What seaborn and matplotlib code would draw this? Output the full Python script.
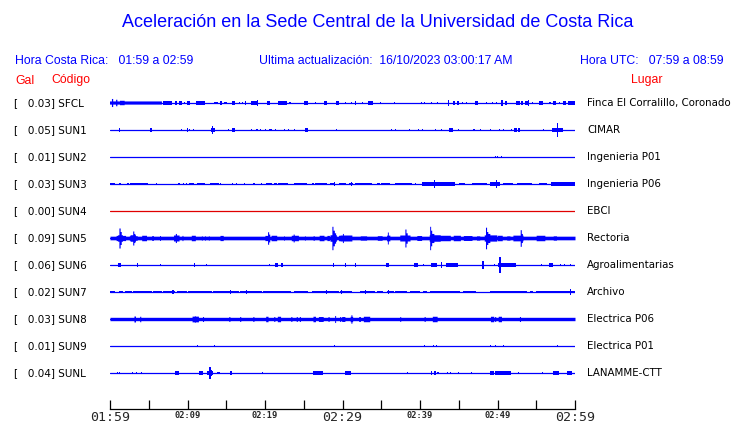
import numpy as np
import pandas as pd
import matplotlib
matplotlib.use("Agg")
import matplotlib.pyplot as plt
import seaborn as sns

# ---------------- data ----------------
codes = ["SFCL", "SUN1", "SUN2", "SUN3", "SUN4", "SUN5", "SUN6", "SUN7", "SUN8", "SUN9", "SUNL"]
peak_gal = [0.03, 0.05, 0.01, 0.03, 0.00, 0.09, 0.06, 0.02, 0.03, 0.01, 0.04]
places = ["Finca El Corralillo, Coronado", "CIMAR", "Ingenieria P01", "Ingenieria P06", "EBCI",
          "Rectoria", "Agroalimentarias", "Archivo", "Electrica P06", "Electrica P01", "LANAMME-CTT"]
# background noise half-amplitude (Gal)
noise_gal = [0.0, 0.0, 0.0, 0.0, 0.0, 0.014, 0.0, 0.0, 0.013, 0.0, 0.0]
# bursts: (start minute, end minute, half-amplitude Gal), minutes after 01:59
sfcl = [(0.0,6.7,0.012),(0.25,0.4,0.031),(0.8,0.95,0.025),(1.3,1.9,0.017),
    (6.9,8.0,0.012),(8.4,8.7,0.012),(8.9,9.3,0.012),(9.5,9.7,0.01),(9.9,10.3,0.012),(11.1,12.3,0.012),
    (13.4,13.9,0.01),(14.2,14.5,0.012),(14.7,15.1,0.01),(15.7,16.1,0.012),(16.7,16.8,0.01),(17.1,17.1,0.01),
    (17.4,17.6,0.012),(18.2,19.1,0.013),(19.0,19.1,0.023),(20.3,20.7,0.012),(21.7,22.8,0.013),(23.1,23.4,0.01),
    (25.0,25.6,0.013),(26.4,26.6,0.01),(27.6,28.0,0.013),(29.1,29.5,0.013),
    (30.3,30.4,0.01),(31.2,31.2,0.01),(31.6,31.8,0.012),(32.5,32.7,0.01),(33.3,33.9,0.012),(34.8,35.0,0.01),
    (36.7,36.7,0.01),(40.2,40.2,0.01),(40.6,40.6,0.01),(41.5,41.5,0.01),(42.2,42.2,0.01),(43.7,43.75,0.021),
    (44.3,44.5,0.012),(44.8,45.0,0.012),(45.5,45.5,0.01),(46.0,46.0,0.01),(47.1,47.5,0.012),(48.6,48.6,0.01),
    (49.4,49.4,0.01),(49.9,49.9,0.01),(50.5,50.7,0.014),(50.55,50.6,0.025),(51.0,51.2,0.012),(52.4,52.9,0.012),
    (53.0,53.3,0.012),(53.5,53.9,0.012),(53.9,54.0,0.021),(54.5,54.5,0.01),(55.4,55.9,0.013),(56.6,56.9,0.01),
    (57.1,57.5,0.012),(57.9,58.1,0.01),(58.4,58.9,0.013),(59.1,60.0,0.012)]
sun1 = [(1.2,1.2,0.012),(5.2,5.4,0.012),(7.1,7.1,0.012),(9.2,9.2,0.008),(10.0,10.0,0.012),(10.3,10.3,0.01),
    (10.8,10.8,0.01),(13.0,13.5,0.013),(13.15,13.25,0.031),(15.3,15.3,0.01),(15.7,16.1,0.012),(18.3,18.3,0.01),
    (18.9,19.1,0.01),(19.4,19.4,0.01),(20.1,20.1,0.01),(20.5,20.9,0.01),(21.4,21.4,0.01),(22.5,22.5,0.008),
    (23.0,23.0,0.01),(23.8,23.8,0.01),(25.1,25.5,0.012),(29.2,29.2,0.008),
    (31.1,31.1,0.01),(36.3,36.3,0.01),(36.8,36.8,0.008),(38.6,38.6,0.008),(39.8,39.8,0.01),(40.3,40.3,0.01),
    (42.0,42.0,0.01),(42.8,42.8,0.008),(43.7,44.2,0.013),(45.0,45.0,0.01),(46.9,47.1,0.01),(47.8,47.8,0.01),
    (49.1,49.1,0.008),(50.3,50.3,0.008),(50.8,50.8,0.01),(51.8,51.8,0.01),(52.1,52.5,0.012),(52.6,52.9,0.012),
    (55.9,55.9,0.01),(57.0,58.5,0.013),(57.7,57.75,0.054)]
sun2 = [(49.7,49.75,0.008),(49.95,50.0,0.008),(50.5,50.5,0.006)]
sun3 = [(0.0,0.6,0.008),(1.2,1.4,0.01),(2.2,2.5,0.008),(2.6,4.9,0.01),(6.0,6.0,0.008),(8.8,9.0,0.01),
    (9.5,9.5,0.008),(9.9,9.9,0.008),(10.2,10.9,0.01),(11.2,12.3,0.01),(12.9,14.0,0.01),(14.2,14.2,0.008),
    (15.7,15.9,0.008),(16.3,16.3,0.008),(17.4,17.4,0.008),(18.5,18.7,0.008),(19.5,19.5,0.008),(20.1,20.9,0.01),
    (21.1,21.5,0.01),(21.7,23.0,0.01),(23.8,25.4,0.01),(26.0,26.3,0.008),(26.5,28.0,0.01),(28.4,29.0,0.01),
    (28.9,29.0,0.018),(29.5,30.5,0.01),
    (30.8,31.4,0.01),(31.1,31.2,0.018),(31.6,33.8,0.011),(34.4,34.8,0.01),(35.0,36.1,0.011),(36.8,39.0,0.011),
    (39.4,39.4,0.008),(40.2,42.2,0.012),(41.85,41.95,0.031),(41.6,42.2,0.016),(42.2,44.5,0.012),(45.0,45.8,0.01),
    (46.7,48.6,0.011),(49.0,50.3,0.012),(49.82,49.9,0.031),(49.6,50.1,0.016),(50.7,52.0,0.011),(52.5,54.4,0.011),
    (55.3,56.4,0.011),(56.9,60.0,0.013)]
sun4 = []
sun5 = [(0.8,2.0,0.02),(1.0,1.6,0.025),(1.15,1.3,0.077),(1.3,1.45,0.05),(2.5,3.5,0.018),(2.6,3.3,0.025),
    (2.95,3.05,0.054),(3.05,3.2,0.035),(4.1,4.7,0.021),(5.4,5.6,0.019),(6.4,6.5,0.019),(8.2,8.9,0.023),
    (8.45,8.55,0.035),(9.3,9.4,0.02),(10.5,11.0,0.021),(11.8,11.9,0.017),(12.2,12.3,0.017),(12.7,12.8,0.017),
    (14.2,14.6,0.02),(20.0,20.6,0.02),(20.35,20.45,0.048),(20.45,20.6,0.03),(20.8,21.5,0.021),(22.4,22.5,0.017),
    (23.4,24.3,0.021),(23.65,23.75,0.03),(25.1,25.2,0.017),(26.2,26.4,0.017),(27.0,27.6,0.021),(28.0,28.3,0.02),
    (28.4,29.2,0.025),(28.65,28.75,0.09),(28.75,28.95,0.06),(28.95,29.1,0.04),(29.5,30.3,0.021),
    (29.7,31.2,0.023),(30.0,30.1,0.035),(32.3,33.1,0.017),(34.5,35.1,0.018),(35.7,36.1,0.022),(35.8,35.9,0.046),
    (37.4,38.7,0.023),(38.08,38.16,0.069),(38.16,38.35,0.04),(39.6,40.2,0.019),(41.2,42.6,0.025),
    (41.27,41.36,0.09),(41.36,41.5,0.06),(41.5,41.8,0.035),(42.6,43.9,0.021),(44.3,45.2,0.021),(45.6,46.7,0.019),
    (47.3,47.7,0.017),(48.3,49.9,0.024),(48.48,48.57,0.083),(48.57,48.75,0.05),(48.75,49.0,0.035),
    (50.0,50.6,0.021),(51.2,51.6,0.017),(52.0,53.3,0.022),(52.95,53.05,0.064),(53.05,53.2,0.035),
    (55.0,56.1,0.021),(57.2,57.6,0.017)]
sun6 = [(1.0,1.4,0.012),(3.5,3.5,0.012),(6.5,6.5,0.01),(10.9,11.0,0.019),(12.5,12.5,0.008),(20.6,20.6,0.01),
    (21.3,21.7,0.014),(22.0,22.3,0.012),(28.8,28.9,0.012),
    (30.3,30.5,0.012),(31.6,31.8,0.019),(35.6,36.0,0.012),(39.2,39.7,0.014),(40.5,40.5,0.01),(41.4,42.2,0.012),
    (42.7,42.9,0.023),(43.4,44.9,0.012),(48.05,48.2,0.031),(48.9,48.9,0.01),(49.6,49.6,0.01),(50.1,50.8,0.015),
    (50.27,50.37,0.06),(50.37,50.5,0.03),(50.8,52.4,0.012),(55.7,55.7,0.01),(56.0,56.0,0.01),(56.6,57.2,0.012),
    (58.1,58.1,0.01),(58.7,58.7,0.01),(59.4,59.4,0.01)]
sun7 = [(0.0,0.6,0.011),(1.1,1.7,0.011),(1.9,2.8,0.011),(3.0,5.4,0.011),(5.6,6.7,0.011),(6.9,8.4,0.011),
    (8.0,8.2,0.018),(8.6,9.9,0.011),(10.1,13.1,0.011),(13.3,16.6,0.011),(15.5,15.6,0.018),(16.8,19.6,0.011),
    (17.6,17.7,0.017),(19.8,23.4,0.011),(23.7,25.6,0.011),(26.0,29.5,0.011),(27.9,28.0,0.018),(29.7,31.2,0.011),
    (29.8,29.9,0.018),(32.3,34.2,0.011),(32.9,33.0,0.018),(34.4,35.3,0.011),(35.7,36.6,0.011),(35.9,36.0,0.017),
    (36.8,38.3,0.011),(38.7,40.0,0.011),(40.4,40.9,0.011),(41.3,45.2,0.011),(45.6,47.3,0.011),(49.0,53.8,0.011),
    (54.2,54.6,0.011),(55.0,60.0,0.011),(59.4,59.5,0.025)]
sun8 = [(3.1,3.3,0.023),(3.9,3.9,0.021),(10.6,11.4,0.022),(10.9,11.0,0.025),(12.0,12.0,0.019),(15.4,15.4,0.019),
    (16.8,16.8,0.019),(18.5,18.5,0.019),(20.1,20.4,0.021),(21.2,21.2,0.019),(21.6,22.0,0.021),(23.4,23.4,0.019),
    (24.1,24.1,0.019),(24.5,24.5,0.019),(26.2,26.5,0.021),(26.9,27.5,0.019),(28.2,28.2,0.019),(29.0,29.1,0.027),
    (29.7,29.7,0.019),(29.9,30.3,0.019),(31.0,31.3,0.021),(31.1,31.2,0.033),(32.1,32.3,0.019),(32.7,33.5,0.021),
    (37.4,37.5,0.019),(40.6,40.6,0.019),(41.6,42.2,0.021),(49.1,49.5,0.021),(49.7,49.7,0.019),(50.1,50.5,0.021),
    (52.9,52.9,0.019)]
sun9 = [(11.2,11.4,0.01),(13.5,13.5,0.007),(29.0,29.0,0.007),(40.6,40.6,0.008),(41.7,41.8,0.01),(42.0,42.2,0.01),
    (49.0,49.2,0.008),(49.8,49.8,0.01),(50.8,50.8,0.008),(57.7,57.7,0.01)]
sunl = [(0.9,1.0,0.01),(1.2,1.3,0.01),(2.9,2.9,0.008),(3.4,3.4,0.008),(4.1,4.1,0.01),(8.4,8.9,0.015),
    (11.5,12.0,0.013),(12.5,13.3,0.014),(12.85,12.95,0.046),(12.95,13.15,0.025),(13.8,14.2,0.01),
    (15.5,15.8,0.013),(19.7,19.7,0.01),(26.2,27.5,0.013),
    (30.3,31.1,0.013),(38.4,38.4,0.008),(41.4,41.6,0.013),(41.8,42.0,0.012),(42.2,42.4,0.01),(43.6,43.6,0.008),
    (43.9,43.9,0.008),(45.0,45.0,0.008),(46.6,46.6,0.008),(49.0,49.6,0.012),(49.7,51.7,0.013),(52.7,52.7,0.008),
    (55.8,55.8,0.008),(57.2,57.9,0.016),(57.5,57.6,0.021),(59.0,59.6,0.012)]
bursts = [sfcl, sun1, sun2, sun3, sun4, sun5, sun6, sun7, sun8, sun9, sunl]
tick_labels = ["01:59", "02:09", "02:19", "02:29", "02:39", "02:49", "02:59"]
title = "Aceleración en la Sede Central de la Universidad de Costa Rica"
hdr_cr = "Hora Costa Rica:   01:59 a 02:59"
hdr_upd = "Ultima actualización:  16/10/2023 03:00:17 AM"
hdr_utc = "Hora UTC:   07:59 a 08:59"

# ---------------- layout ----------------
W, H = 740, 423
BLUE = "#0000FF"
sns.set_theme(style="white")
plt.rcParams["font.family"] = ["DejaVu Sans"]
fig = plt.figure(figsize=(W / 100, H / 100), dpi=100)
fig.patch.set_facecolor("white")

def fx(x):
    return x / W

def fy(y):
    return 1 - y / H

ax_left, ax_right, ax_top, ax_bot = 110, 575, 88, 409
ax = fig.add_axes([fx(ax_left), fy(ax_bot), (ax_right - ax_left) / W, (ax_bot - ax_top) / H])
ax.set_xlim(0, 60)
ax.set_ylim(ax_bot, ax_top)  # y in pixel units from top
PX_PER_GAL = 130.0
y0, dy = 103.0, 27.0
centers = [y0 + dy * i for i in range(len(codes))]

# centre lines via seaborn
rows = []
for c, yc in zip(codes, centers):
    rows.append({"t": 0.0, "y": yc, "code": c})
    rows.append({"t": 60.0, "y": yc, "code": c})
df = pd.DataFrame(rows)
pal = {c: ("#E00000" if c == "SUN4" else BLUE) for c in codes}
sns.lineplot(data=df, x="t", y="y", hue="code", palette=pal, units="code", estimator=None,
             linewidth=0.9, legend=False, ax=ax)

# envelopes
t = np.arange(0, 60.0001, 0.02)
for i, (c, yc) in enumerate(zip(codes, centers)):
    env = np.full_like(t, noise_gal[i])
    for (a, b, amp) in bursts[i]:
        if b - a < 0.13:
            m = 0.5 * (a + b)
            a, b = m - 0.065, m + 0.065
        sel = (t >= a) & (t <= b)
        env[sel] = np.maximum(env[sel], amp)
    h = env * PX_PER_GAL
    mask = h > 0
    if mask.any():
        ax.fill_between(t, yc - h, yc + h, where=mask, step="mid", color=pal[c], linewidth=0,
                        interpolate=False)

# axes styling
for s in ["top", "left", "right"]:
    ax.spines[s].set_visible(False)
ax.spines["bottom"].set_color("black")
ax.spines["bottom"].set_linewidth(0.9)
ax.set_yticks([])
ax.set_xlabel("")
ax.set_ylabel("")
ax.set_xticks(np.arange(0, 61, 5))
labels = []
for k in range(13):
    labels.append(tick_labels[k // 2] if k % 2 == 0 else "")
ax.set_xticklabels(labels)
ax.tick_params(axis="x", direction="in", length=6.5, width=0.9, color="black", pad=1.5, bottom=True)
for k, lab in enumerate(ax.get_xticklabels()):
    lab.set_fontfamily("DejaVu Sans Mono")
    if k in (0, 6, 12):
        lab.set_fontsize(9.5)
    else:
        lab.set_fontsize(6.2)
        lab.set_fontweight("bold")
ax.patch.set_alpha(0)

# station labels
for i, (c, yc) in enumerate(zip(codes, centers)):
    fig.text(fx(14), fy(yc), f"[   {peak_gal[i]:.2f}] {c}", fontsize=7.5, color="black",
             va="center", ha="left", family="DejaVu Sans")
    fig.text(fx(587), fy(yc), places[i], fontsize=7.4, color="black", va="center", ha="left",
             family="DejaVu Sans")

# header texts
fig.text(fx(378), fy(22.5), title, fontsize=13, color=BLUE, ha="center", va="center",
         family="Liberation Sans")
fig.text(fx(15), fy(61), hdr_cr, fontsize=8.8, color=BLUE, ha="left", va="center", family="Liberation Sans")
fig.text(fx(259), fy(61), hdr_upd, fontsize=8.8, color=BLUE, ha="left", va="center", family="Liberation Sans")
fig.text(fx(724), fy(61), hdr_utc, fontsize=8.8, color=BLUE, ha="right", va="center", family="Liberation Sans")
fig.text(fx(15), fy(80.5), "Gal", fontsize=8.8, color="#FF0000", ha="left", va="center", family="Liberation Sans")
fig.text(fx(51), fy(80.5), "Código", fontsize=8.8, color="#FF0000", ha="left", va="center", family="Liberation Sans")
fig.text(fx(631), fy(80.5), "Lugar", fontsize=8.8, color="#FF0000", ha="left", va="center", family="Liberation Sans")

fig.savefig("out.png", dpi=100)
